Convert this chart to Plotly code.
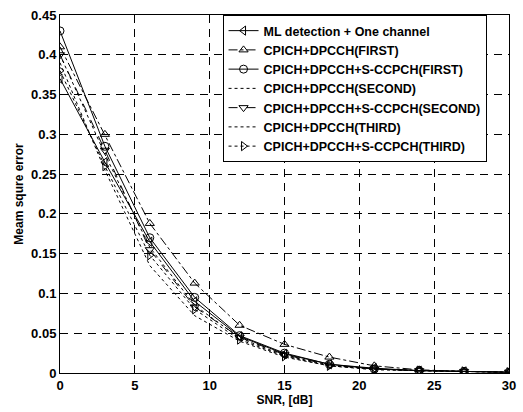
import plotly.graph_objects as go

snr = [0, 3, 6, 9, 12, 15, 18, 21, 24, 27, 30]

names = [
    "ML detection + One channel",
    "CPICH+DPCCH(FIRST)",
    "CPICH+DPCCH+S-CCPCH(FIRST)",
    "CPICH+DPCCH(SECOND)",
    "CPICH+DPCCH+S-CCPCH(SECOND)",
    "CPICH+DPCCH(THIRD)",
    "CPICH+DPCCH+S-CCPCH(THIRD)",
]

ml_one = [0.370, 0.265, 0.165, 0.090, 0.046, 0.024, 0.011, 0.006, 0.003, 0.002, 0.001]
first = [0.410, 0.300, 0.188, 0.113, 0.060, 0.036, 0.020, 0.009, 0.004, 0.002, 0.001]
sccpch_first = [0.430, 0.285, 0.170, 0.095, 0.047, 0.025, 0.011, 0.005, 0.003, 0.002, 0.001]
second = [0.400, 0.275, 0.158, 0.085, 0.044, 0.022, 0.010, 0.005, 0.003, 0.002, 0.001]
sccpch_second = [0.400, 0.280, 0.155, 0.083, 0.045, 0.023, 0.010, 0.005, 0.003, 0.002, 0.001]
third = [0.390, 0.255, 0.135, 0.072, 0.040, 0.020, 0.009, 0.004, 0.003, 0.002, 0.001]
sccpch_third = [0.380, 0.260, 0.148, 0.080, 0.042, 0.021, 0.009, 0.005, 0.003, 0.002, 0.001]

series = [ml_one, first, sccpch_first, second, sccpch_second, third, sccpch_third]
symbols = ["triangle-left-open", "triangle-up-open", "circle-open", None,
           "triangle-down-open", None, "triangle-right-open"]
dashes = ["solid", "dashdot", "solid", "dot", "dash", "dot", "dot"]

fig = go.Figure()
for name, ys, sym, dash in zip(names, series, symbols, dashes):
    mode = "lines+markers" if sym else "lines"
    fig.add_trace(go.Scatter(
        x=snr, y=ys, name=name, mode=mode,
        line=dict(color="black", width=1, dash=dash),
        marker=dict(symbol=sym or "circle", size=8, color="black",
                    line=dict(color="black", width=1)),
    ))

fam = "Liberation Sans, Arial"

fig.update_layout(
    width=523, height=412,
    margin=dict(l=60, r=7, t=15, b=37),
    paper_bgcolor="white", plot_bgcolor="white",
    font=dict(family=fam, size=12, color="black"),
    showlegend=True,
    legend=dict(
        x=0.362, y=1.0, xanchor="left", yanchor="top",
        bgcolor="white", bordercolor="black", borderwidth=1,
        font=dict(family=fam, size=12.5, color="black", weight="bold"),
        tracegroupgap=0, itemwidth=30,
    ),
)
fig.update_xaxes(
    range=[0, 30], tickvals=[0, 5, 10, 15, 20, 25, 30],
    showline=True, linecolor="black", linewidth=1, mirror=True,
    ticks="inside", ticklen=5, tickcolor="black",
    showgrid=True, gridcolor="black", griddash="8px,6px", gridwidth=1,
    zeroline=False,
    title=dict(text="SNR, [dB]", font=dict(size=12, weight="bold"), standoff=4),
    tickfont=dict(size=13, weight="bold"),
)
fig.update_yaxes(
    range=[0, 0.45], tickvals=[0, 0.05, 0.1, 0.15, 0.2, 0.25, 0.3, 0.35, 0.4, 0.45],
    ticktext=["0", "0.05", "0.1", "0.15", "0.2", "0.25", "0.3", "0.35", "0.4", "0.45"],
    showline=True, linecolor="black", linewidth=1, mirror=True,
    ticks="inside", ticklen=5, tickcolor="black",
    showgrid=True, gridcolor="black", griddash="8px,6px", gridwidth=1,
    zeroline=False,
    title=dict(text="Meam squre error", font=dict(size=12, weight="bold"), standoff=4),
    tickfont=dict(size=13, weight="bold"),
)

fig.write_html("out.html")
